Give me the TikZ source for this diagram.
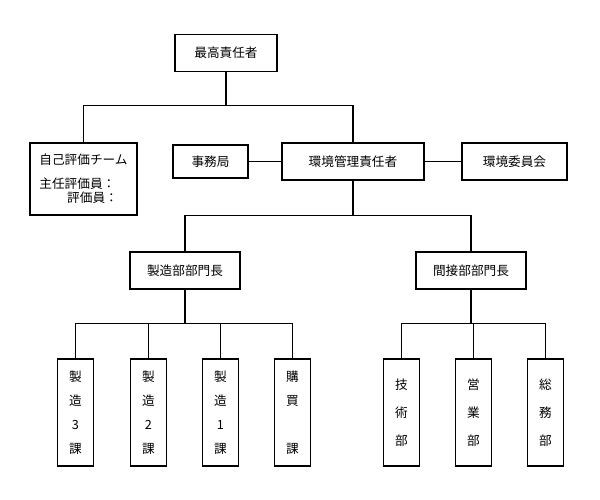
\documentclass[tikz,border=0pt]{standalone}
\usepackage{fontspec}
\newfontfamily\cjk{Noto Sans CJK JP}
\usetikzlibrary{calc}
\begin{document}
\begin{tikzpicture}[x=0.025cm, y=-0.025cm, font=\cjk\fontsize{9}{10}\selectfont]
\tikzset{
  every box/.style={draw, thick, inner sep=0pt, align=center},
  tall box/.style={every box, minimum width=36*0.025cm, minimum height=107*0.025cm},
}
\useasboundingbox (0,0) rectangle (600,500);

% upper part
\node [every box, minimum width=102*0.025cm, minimum height=37*0.025cm] (top) at (226,53) {最高責任者};
\node [every box, minimum width=107*0.025cm, minimum height=72*0.025cm, align=left] (self) at (83.5,179)
  {自己評価チーム\\[7pt]主任評価員：\\\hspace{2.2em}評価員：};
\node [every box, minimum width=75*0.025cm, minimum height=33*0.025cm] (office) at (210.5,161.5) {事務局};
\node [every box, minimum width=142*0.025cm, minimum height=37*0.025cm] (env) at (353,161.5) {環境管理責任者};
\node [every box, minimum width=105*0.025cm, minimum height=37*0.025cm] (comm) at (514.5,161.5) {環境委員会};

% managers
\node [every box, minimum width=110*0.025cm, minimum height=37*0.025cm] (mfg) at (185,270.5) {製造部部門長};
\node [every box, minimum width=110*0.025cm, minimum height=37*0.025cm] (ind) at (471,270.5) {間接部部門長};

% sections
\foreach \n/\x/\s/\t in {s3/75.5/17/製\\造\\3\\課, s2/148.5/17/製\\造\\2\\課, s1/220.5/17/製\\造\\1\\課,
                         buy/292.5/17/購\\買\\[17pt]課,
                         tech/401.5/20/技\\術\\部, sales/473.5/20/営\\業\\部, gen/545.5/20/総\\務\\部}
  \node [tall box, font=\cjk\fontsize{9}{\s}\selectfont] (\n) at (\x,412.5) {\t};

% connectors
\draw [thick] (top.south) -- ++(0,33) coordinate (j1);
\draw [thick] (self.north) |- (j1) -| (env.north);
\draw [thick] (office) -- (env) -- (comm);
\draw [thick] (env.south) -- ++(0,35) coordinate (j2);
\draw [thick] (mfg.north) |- (j2) -| (ind.north);
\draw [thick] (mfg.south) -- ++(0,34) coordinate (j3);
\foreach \n in {s3,s2,s1,buy}
  \draw [thick] (\n.north) |- (j3);
\draw [thick] (ind.south) -- ++(0,34) coordinate (j4);
\foreach \n in {tech,sales,gen}
  \draw [thick] (\n.north) |- (j4);

\end{tikzpicture}
\end{document}
